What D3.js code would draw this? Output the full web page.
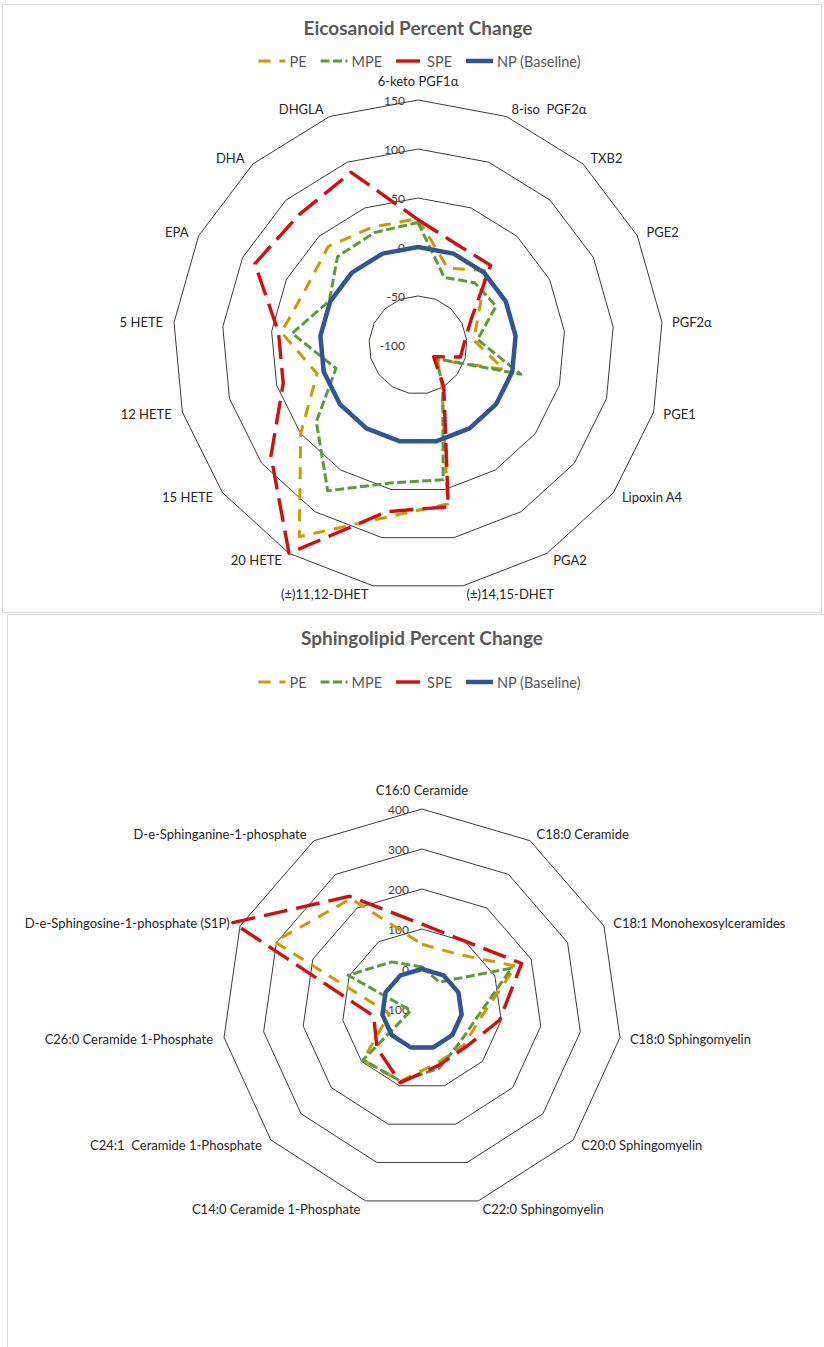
<!DOCTYPE html>
<html><head><meta charset="utf-8">
<script src="https://cdn.jsdelivr.net/npm/d3@7"></script>
<style>
html,body{margin:0;padding:0;background:#fff;}
svg{display:block;}
text{font-family:Lato,"Open Sans",sans-serif;white-space:pre;}
</style></head><body>
<svg id="chart" width="824" height="1347"></svg>
<script>
const seriesNames = ["PE", "MPE", "SPE", "NP (Baseline)"];

const eicoCategories = ["6-keto PGF1α", "8-iso  PGF2α", "TXB2", "PGE2", "PGF2α", "PGE1", "Lipoxin A4", "PGA2",
  "(±)14,15-DHET", "(±)11,12-DHET", "20 HETE", "15 HETE", "12 HETE", "5 HETE", "EPA", "DHA", "DHGLA"];
const eicoPE  = [29, -16, 3, -31, -43, -9, -75, -54, 65, 79, 130, 50, 7, 40, 28, 36, 29];
const eicoMPE = [25, -26, -14, -11, -39, 9, -77, -52, 40, 43, 75, 30, -13, 29, 1, 22, 23];
const eicoSPE = [28, 10, 10, -39, -52, -55, -80, -50, 68, 73, 150, 88, 43, 43, 86, 80, 89];
const eicoNP  = [0, 0, 0, 0, 0, 0, 0, 0, 0, 0, 0, 0, 0, 0, 0, 0, 0];
const eicoTicks = [-100, -50, 0, 50, 100, 150];

const sphCategories = ["C16:0 Ceramide", "C18:0 Ceramide", "C18:1 Monohexosylceramides", "C18:0 Sphingomyelin",
  "C20:0 Sphingomyelin", "C22:0 Sphingomyelin", "C14:0 Ceramide 1-Phosphate", "C24:1  Ceramide 1-Phosphate",
  "C26:0 Ceramide 1-Phosphate", "D-e-Sphingosine-1-phosphate (S1P)", "D-e-Sphinganine-1-phosphate"];
const sphPE  = [62, 63, 158, 49, 38, 40, 88, 95, -18, 305, 228];
const sphMPE = [5, -20, 146, 40, 26, 54, 88, 95, -72, 103, 40];
const sphSPE = [112, 101, 174, 96, 45, 47, 92, 49, 22, 420, 235];
const sphNP  = [0, 0, 0, 0, 0, 0, 0, 0, 0, 0, 0];
const sphTicks = [-100, 0, 100, 200, 300, 400];

const styles = [
  {color: "#CC9900", width: 3,   dash: "12,9"},
  {color: "#5E9A36", width: 3,   dash: "9,3.5"},
  {color: "#D20F0F", width: 3.4, dash: "24,9"},
  {color: "#2F5597", width: 4.5, dash: null}
];

const svg = d3.select("#chart");
svg.append("rect").attr("x", 2.5).attr("y", 4.5).attr("width", 819).attr("height", 608)
  .attr("fill", "none").attr("stroke", "#d9d9d9");
svg.append("path").attr("d", "M7.5,1347 V614.5 H824").attr("fill", "none").attr("stroke", "#d9d9d9");

function drawRadar(opt) {
  svg.append("text").attr("x", opt.cx).attr("y", opt.titleY).attr("text-anchor", "middle")
    .attr("dominant-baseline", "central").attr("font-size", 19).attr("font-weight", "bold")
    .attr("fill", "#595959").text(opt.title);

  const lg = svg.append("g");
  let x = 0;
  seriesNames.forEach((name, i) => {
    const st = styles[i];
    lg.append("line").attr("x1", x).attr("x2", x + 27).attr("y1", opt.legendY).attr("y2", opt.legendY)
      .attr("stroke", st.color).attr("stroke-width", st.width).attr("stroke-dasharray", st.dash);
    const t = lg.append("text").attr("x", x + 31).attr("y", opt.legendY).attr("dominant-baseline", "central")
      .attr("font-size", 14.5).attr("fill", "#595959").text(name);
    x += 31 + t.node().getComputedTextLength() + 14;
  });
  const lw = x - 14;
  lg.attr("transform", `translate(${opt.legendCx - lw / 2},0)`);

  const g = svg.append("g").attr("transform", `translate(${opt.cx},${opt.cy})`);
  const n = opt.categories.length;
  const angle = d3.scaleLinear().domain([0, n]).range([0, 2 * Math.PI]);
  const r = d3.scaleLinear().domain(opt.domain).range([0, opt.radius]);
  const line = d3.lineRadial().angle((d, i) => angle(i)).radius(d => r(d)).curve(d3.curveLinearClosed);

  opt.ticks.filter(t => r(t) > 0).forEach(t => {
    g.append("path").attr("d", line(d3.range(n).map(() => t)))
      .attr("fill", "none").attr("stroke", "#262626").attr("stroke-width", 0.9);
  });

  opt.ticks.forEach(t => {
    g.append("text").attr("x", -13).attr("y", -r(t)).attr("text-anchor", "end")
      .attr("dominant-baseline", "central").attr("font-size", 12).attr("fill", "#404040").text(t);
  });

  opt.series.forEach((vals, si) => {
    const st = styles[si];
    g.append("path").attr("d", line(vals)).attr("fill", "none")
      .attr("stroke", st.color).attr("stroke-width", st.width)
      .attr("stroke-dasharray", st.dash).attr("stroke-linejoin", "round");
  });

  opt.categories.forEach((c, i) => {
    const a = angle(i), s = Math.sin(a), co = Math.cos(a);
    const R = opt.radius + 8;
    let lx = R * s, ly = -R * co, anchor;
    if (Math.abs(s) < 0.05) { anchor = "middle"; ly -= 11; }
    else if (s > 0) { anchor = "start"; lx += 2; }
    else { anchor = "end"; lx -= 3; }
    g.append("text").attr("x", lx).attr("y", ly).attr("text-anchor", anchor)
      .attr("dominant-baseline", "central").attr("font-size", 13).attr("fill", "#262626").text(c);
  });
}

drawRadar({
  title: "Eicosanoid Percent Change", titleY: 27, legendY: 61, legendCx: 419.5,
  cx: 418, cy: 345, radius: 245, domain: [-100, 150], ticks: eicoTicks,
  categories: eicoCategories, series: [eicoPE, eicoMPE, eicoSPE, eicoNP]
});
drawRadar({
  title: "Sphingolipid Percent Change", titleY: 637, legendY: 682, legendCx: 419.5,
  cx: 422, cy: 1009, radius: 200, domain: [-100, 400], ticks: sphTicks,
  categories: sphCategories, series: [sphPE, sphMPE, sphSPE, sphNP]
});
</script>
</body></html>
